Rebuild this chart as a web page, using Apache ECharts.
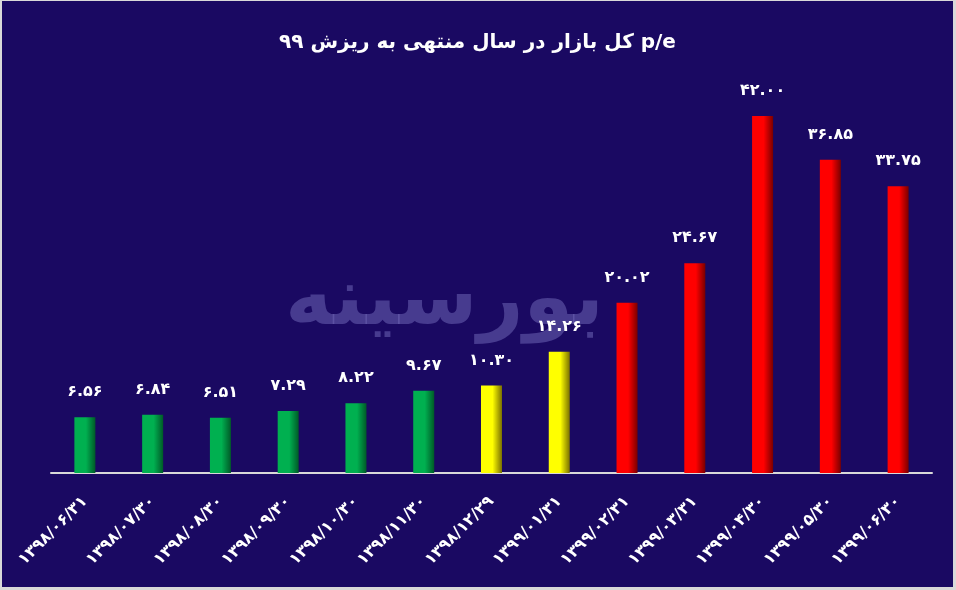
<!DOCTYPE html>
<html><head><meta charset="utf-8">
<script src="https://cdn.jsdelivr.net/npm/echarts@6/dist/echarts.min.js"></script>
<style>
html,body{margin:0;padding:0;background:#d9d9d9;}
#c{position:absolute;left:2px;top:1px;width:951px;height:586px;background:#1a0962;}
</style></head>
<body><div id="c"></div>
<script>
const titleText = 'p/e کل بازار در سال منتهی به ریزش ۹۹';
const watermarkText = 'بورسینه';
const categories = ['1398/06/31','1398/07/30','1398/08/30','1398/09/30','1398/10/30','1398/11/30','1398/12/29','1399/01/31','1399/02/31','1399/03/31','1399/04/30','1399/05/30','1399/06/30'];
const values = [6.56, 6.84, 6.51, 7.29, 8.22, 9.67, 10.30, 14.26, 20.02, 24.67, 42.00, 36.85, 33.75];

const fa = s => String(s).replace(/[0-9]/g, d => '۰۱۲۳۴۵۶۷۸۹'[d]);
const rtl = s => '\u202B' + s + '\u202C';
function grad(light, dark){
  return new echarts.graphic.LinearGradient(0,0,1,0,[
    {offset:0,color:light},{offset:0.55,color:light},{offset:1,color:dark}]);
}
function colorOf(v){
  if (v < 10) return grad('#00b050','#005a28');
  if (v < 15) return grad('#ffff00','#7a7000');
  return grad('#ff0000','#7a0000');
}
const chart = echarts.init(document.getElementById('c'), null, {renderer:'canvas'});
const F = '"DejaVu Sans", "Noto Sans", sans-serif';
chart.setOption({
  backgroundColor:'#1a0962',
  animation:false,
  title:{text:rtl(titleText),left:'center',top:27,textStyle:{color:'#ffffff',fontSize:20,fontWeight:'bold',fontFamily:F}},
  graphic:[{type:'text',left:283,top:262,z:0,style:{text:rtl(watermarkText),fontSize:80,fontWeight:'bold',fontFamily:F,fill:'rgba(110,100,180,0.55)'}}],
  grid:{left:49,right:21,top:115,bottom:114},
  xAxis:{type:'category',data:categories,
    axisLine:{lineStyle:{color:'#d9d9d9',width:2}},axisTick:{show:false},
    axisLabel:{rotate:45,color:'#ffffff',fontWeight:'bold',fontSize:16,fontFamily:F,margin:26,formatter:v=>fa(v)}},
  yAxis:{type:'value',min:0,max:42,show:false,splitLine:{show:false}},
  series:[{type:'bar',barWidth:'31%',z:2,
    data:values.map(v=>({value:v,itemStyle:{color:colorOf(v)}})),
    label:{show:true,position:'top',distance:17,color:'#ffffff',fontWeight:'bold',fontSize:16,fontFamily:F,
      formatter:p=>fa(p.value.toFixed(2))}}]
});
</script></body></html>
